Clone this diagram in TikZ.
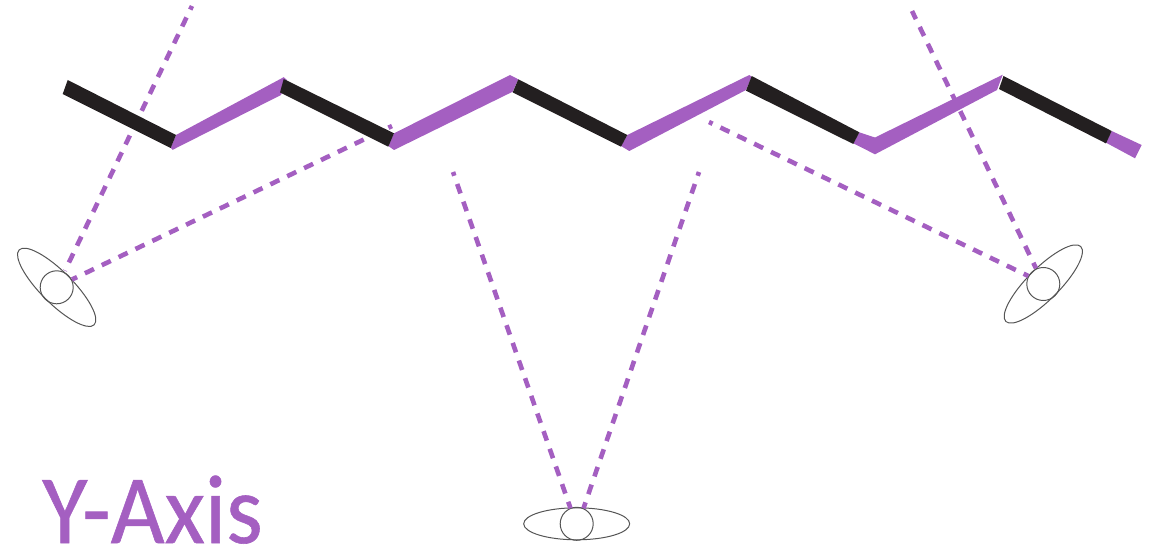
\documentclass[tikz,border=0pt]{standalone}
\usepackage{xcolor}
\usepackage{fontspec}
\usepackage{tikz}
\usetikzlibrary{shapes.geometric}
\setmainfont{Carlito}
\definecolor{bondpurple}{HTML}{A45FC1}
\definecolor{bondblack}{HTML}{231F20}
\definecolor{eyegray}{HTML}{555555}
\tikzset{
	sightline/.style={draw=bondpurple, line width=4.6pt, dash pattern=on 10pt off 8.7pt, dash phase=6pt},
	eyelid/.style={ellipse, draw=eyegray, line width=1pt, minimum width=106pt, minimum height=32pt, inner sep=0pt},
	eyeball/.style={circle, draw=eyegray, line width=1pt, minimum size=33pt, inner sep=0pt}
}

\begin{document}
\begin{tikzpicture}[x=1pt,y=-1pt]
	\useasboundingbox (0,0) rectangle (1163,548);

	% eyes
	\node[eyelid, rotate=-45] (left lid) at (56.7,287.3) {};
	\node[eyeball] (left ball) at (56.7,287.3) {};
	\node[eyelid] (mid lid) at (576.7,523.8) {};
	\node[eyeball] (mid ball) at (576.7,523.8) {};
	\node[eyelid, rotate=45] (right lid) at (1043.3,284) {};
	\node[eyeball] (right ball) at (1043.3,284) {};

	% ends of the lines of sight
	\coordinate (left far) at (192,6);
	\coordinate (left near) at (392,126);
	\coordinate (mid left) at (453,172);
	\coordinate (mid right) at (699,172);
	\coordinate (right near) at (709,122);
	\coordinate (right far) at (912,11);

	\draw[sightline] (left far) -- (65,270.7);
	\draw[sightline] (left near) -- (72,279.5);
	\draw[sightline] (mid left) -- (570.5,508.3);
	\draw[sightline] (mid right) -- (583.5,508.3);
	\draw[sightline] (right near) -- (1028.3,276);
	\draw[sightline, dash phase=1pt] (right far) -- (1036,268.3);

	% purple bonds
	\fill[bondpurple] (176,135) -- (283.7,77.2) -- (287,80) -- (281,95) -- (172.7,149.8) -- (170.7,147.7) -- cycle;
	\fill[bondpurple] (394,133.3) -- (510,75) -- (518.3,79.3) -- (512.7,91.7) -- (394,150) -- (388.3,146) -- cycle;
	\fill[bondpurple] (627.3,135) -- (749.3,75) -- (751.7,76.7) -- (746,90) -- (629.3,151) -- (621,146) -- cycle;
	\fill[bondpurple] (859.3,132.3) -- (875,137.5) -- (1002.7,74.7) -- (997,90) -- (875,154.3) -- (853.3,143.3) -- cycle;
	\fill[bondpurple] (1111.7,131) -- (1141.7,145) -- (1135,158.3) -- (1106,142.7) -- cycle;

	% black bonds
	\foreach \a/\b/\c/\d in {{67.7,80}/{176,135}/{170.7,148}/{62.7,94},
		{283.7,79}/{394,133.3}/{388.3,146.7}/{280,92.4},
		{518.3,79.3}/{627.3,135}/{621,146.7}/{512.7,92.4},
		{751.7,76}/{859.3,132.3}/{853.3,144}/{746,90.7},
		{1003.5,76}/{1111.7,131}/{1106,143.4}/{999,89}}
		\fill[bondblack] (\a) -- (\b) -- (\c) -- (\d) -- cycle;

	\node[anchor=base west, inner sep=0pt, text=bondpurple, xscale=0.95, font=\fontsize{98}{98}\selectfont\addfontfeature{FakeBold=0.6}] (axis label) at (42,543) {Y-Axis};
\end{tikzpicture}
\end{document}
